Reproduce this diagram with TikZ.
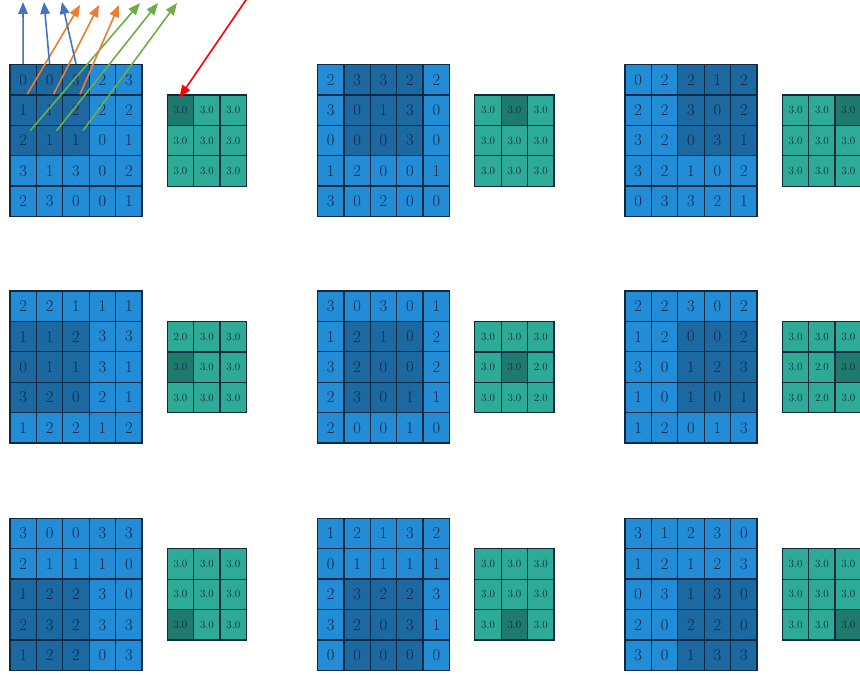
\documentclass[tikz,border=0pt]{standalone}
\usetikzlibrary{arrows.meta}
\definecolor{cellblue}{HTML}{238CD7}
\definecolor{winblue}{HTML}{1B69A0}
\definecolor{cellteal}{HTML}{2EAB96}
\definecolor{winteal}{HTML}{1E7A6C}
\definecolor{gridline}{HTML}{0E2A42}
\definecolor{digit}{HTML}{14284A}
\definecolor{arrblue}{HTML}{4472C4}
\definecolor{arrorange}{HTML}{ED7D31}
\definecolor{arrgreen}{HTML}{70AD47}
\tikzset{
  incell/.style={draw=gridline,line width=1.3pt,minimum width=26.4pt,minimum height=30.4pt,
    inner sep=0pt,text=digit,font=\fontsize{16.5}{16.5}\selectfont},
  incell-0/.style={incell,fill=cellblue},
  incell-1/.style={incell,fill=winblue},
  outcell/.style={incell,font=\fontsize{11}{11}\selectfont},
  outcell-0/.style={outcell,fill=cellteal},
  outcell-1/.style={outcell,fill=winteal},
  arrow/.style={-{Triangle[length=12pt,width=9.5pt]},line width=1.6pt}
}

\begin{document}
\begin{tikzpicture}[x=1pt,y=-1pt]

  \useasboundingbox (0,0) rectangle (860,675);

  \foreach \p/\px/\py/\wr/\wc/\cells/\outs in {
    1/10/64.5/0/0/{0,0,3,2,3,1,1,2,2,2,2,1,1,0,1,3,1,3,0,2,2,3,0,0,1}/{3.0,3.0,3.0,3.0,3.0,3.0,3.0,3.0,3.0},
    2/317.5/64.5/0/1/{2,3,3,2,2,3,0,1,3,0,0,0,0,3,0,1,2,0,0,1,3,0,2,0,0}/{3.0,3.0,3.0,3.0,3.0,3.0,3.0,3.0,3.0},
    3/625/64.5/0/2/{0,2,2,1,2,2,2,3,0,2,3,2,0,3,1,3,2,1,0,2,0,3,3,2,1}/{3.0,3.0,3.0,3.0,3.0,3.0,3.0,3.0,3.0},
    4/10/291/1/0/{2,2,1,1,1,1,1,2,3,3,0,1,1,3,1,3,2,0,2,1,1,2,2,1,2}/{2.0,3.0,3.0,3.0,3.0,3.0,3.0,3.0,3.0},
    5/317.5/291/1/1/{3,0,3,0,1,1,2,1,0,2,3,2,0,0,2,2,3,0,1,1,2,0,0,1,0}/{3.0,3.0,3.0,3.0,3.0,2.0,3.0,3.0,2.0},
    6/625/291/1/2/{2,2,3,0,2,1,2,0,0,2,3,0,1,2,3,1,0,1,0,1,1,2,0,1,3}/{3.0,3.0,3.0,3.0,2.0,3.0,3.0,2.0,3.0},
    7/10/518.3/2/0/{3,0,0,3,3,2,1,1,1,0,1,2,2,3,0,2,3,2,3,3,1,2,2,0,3}/{3.0,3.0,3.0,3.0,3.0,3.0,3.0,3.0,3.0},
    8/317.5/518.3/2/1/{1,2,1,3,2,0,1,1,1,1,2,3,2,2,3,3,2,0,3,1,0,0,0,0,0}/{3.0,3.0,3.0,3.0,3.0,3.0,3.0,3.0,3.0},
    9/625/518.3/2/2/{3,1,2,3,0,1,2,1,2,3,0,3,1,3,0,2,0,2,2,0,3,0,1,3,3}/{3.0,3.0,3.0,3.0,3.0,3.0,3.0,3.0,3.0}} {
    % input map with the pooling window
    \foreach \v [count=\k from 0] in \cells {
      \pgfmathtruncatemacro\r{int(\k/5)}
      \pgfmathtruncatemacro\c{mod(\k,5)}
      \pgfmathtruncatemacro\dk{and(and(\r>=\wr,\r<\wr+3),and(\c>=\wc,\c<\wc+3))}
      \node[incell-\dk] (in\p-\r-\c) at (\px+13.2+26.4*\c, \py+15.2+30.4*\r) {\v};
    }
    % pooled output
    \foreach \v [count=\k from 0] in \outs {
      \pgfmathtruncatemacro\r{int(\k/3)}
      \pgfmathtruncatemacro\c{mod(\k,3)}
      \pgfmathtruncatemacro\dk{and(\r==\wr,\c==\wc)}
      \node[outcell-\dk] (out\p-\r-\c) at (\px+170.5+26.4*\c, \py+45.7+30.4*\r) {\v};
    }
  }

  \coordinate (bt1) at (23,2);
  \coordinate (bt2) at (44,2);
  \coordinate (bt3) at (62,2);
  \coordinate (ot1) at (80,5);
  \coordinate (ot2) at (99,5);
  \coordinate (ot3) at (119,5);
  \coordinate (gt1) at (140,3);
  \coordinate (gt2) at (158,3);
  \coordinate (gt3) at (177,3);
  \coordinate (rt) at (248,-3);

  \foreach \c [count=\i] in {0,1,2} {
    \draw[arrow,arrblue] (in1-0-\c.north) -- (bt\i);
    \draw[arrow,arrorange] ([xshift=4pt]in1-1-\c.north) -- (ot\i);
    \draw[arrow,arrgreen] ([xshift=7pt,yshift=-6pt]in1-2-\c.north) -- (gt\i);
  }
  \draw[arrow,red] (rt) -- ([xshift=-1pt,yshift=-3pt]out1-0-0.north);

\end{tikzpicture}
\end{document}
